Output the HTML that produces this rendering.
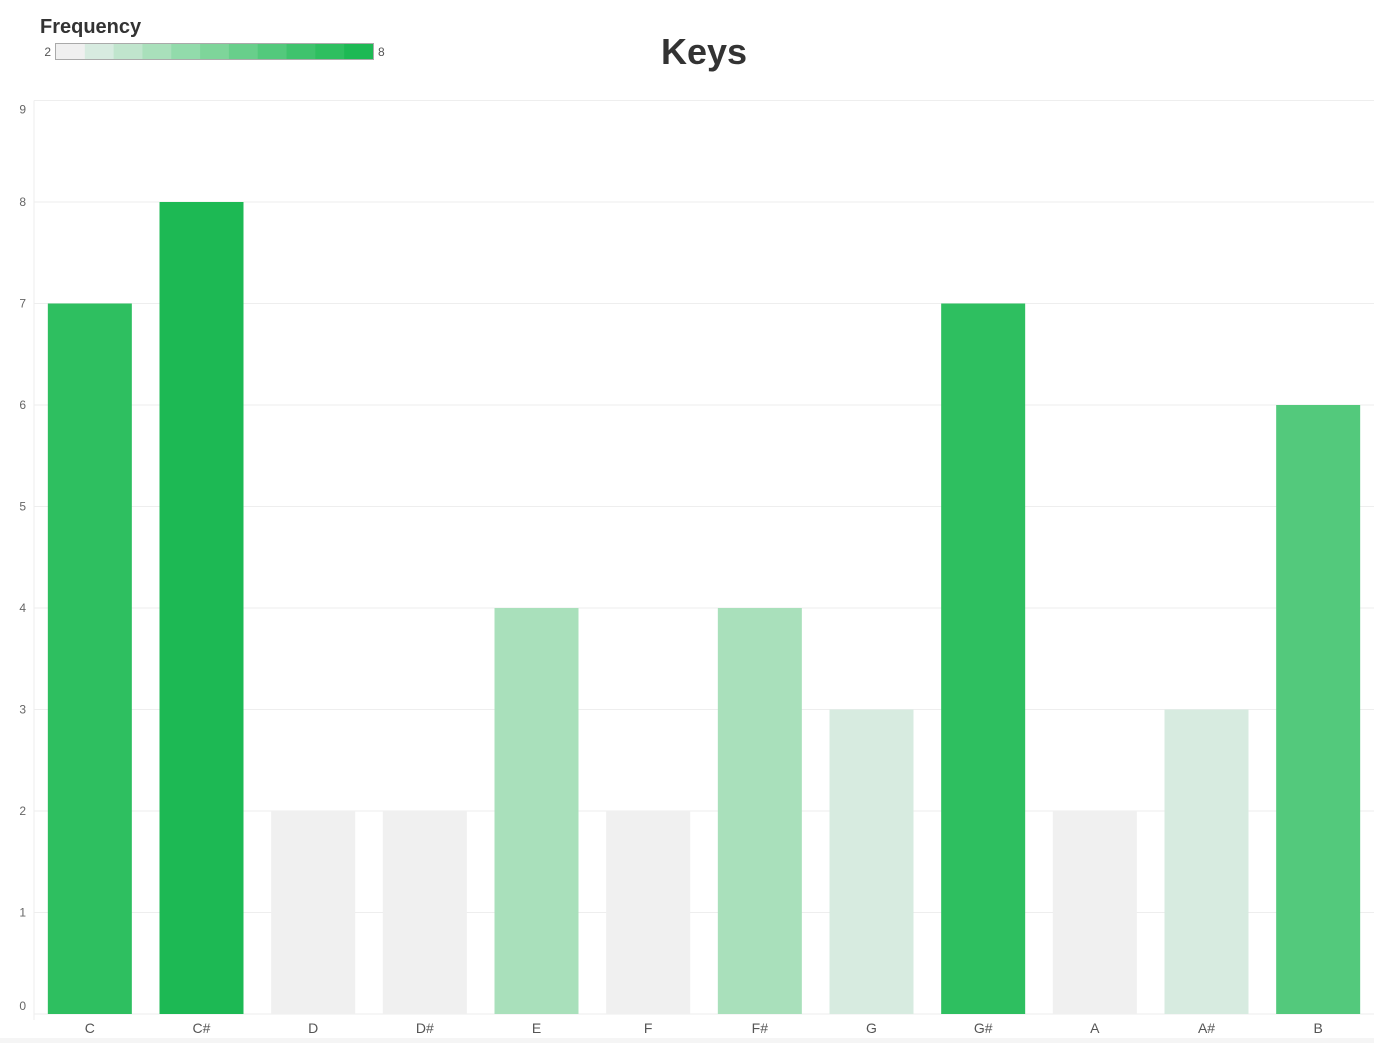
<!DOCTYPE html>
<html><head><meta charset="utf-8">
<style>
body{margin:0;background:#fff;font-family:"Liberation Sans",sans-serif;}
svg{display:block}
</style></head>
<body>
<svg id="chart" width="1374" height="1043">
<rect x="0" y="1038" width="1374" height="5" fill="#f5f5f5"/>
<text x="40" y="33" font-size="20" font-weight="bold" fill="#333">Frequency</text>
<text x="704" y="64" font-size="36" font-weight="bold" fill="#333" text-anchor="middle">Keys</text>
<g id="legend"></g>
<g id="grid"></g>
<g id="bars"></g>
<g id="axes"></g>
</svg>
<script>
const categories=["C","C#","D","D#","E","F","F#","G","G#","A","A#","B"];
const values=[7,8,2,2,4,2,4,3,7,2,3,6];
const yTicks=[0,1,2,3,4,5,6,7,8,9];
const legendColors=["#f0f0f0","#d7ebe0","#c0e5cd","#a9e0bb","#92dbab","#7ed59a","#68cf8b","#53c97c","#3fc36d","#2ebf60","#1db954"];
const NS="http://www.w3.org/2000/svg";
const x0=34,x1=1374,y0=1014,yPerUnit=101.5;
const band=(x1-x0)/categories.length,bw=84;
const y=v=>y0-v*yPerUnit;
const xc=i=>x0+band*(i+0.5);
function colorFor(v){const idx=Math.max(0,Math.min(legendColors.length-1,Math.round(2*v-5)));return legendColors[idx];}
function mk(tag,attrs,parent){const e=document.createElementNS(NS,tag);for(const k in attrs)e.setAttribute(k,attrs[k]);parent.appendChild(e);return e;}
const lg=document.getElementById('legend'),gg=document.getElementById('grid'),bg=document.getElementById('bars'),ag=document.getElementById('axes');
const lw=(373-56)/legendColors.length;
legendColors.forEach((c,i)=>{const r=mk('rect',{x:56+i*lw,y:43,width:lw+0.5,height:16,fill:c},lg);

});
let lb=mk('rect',{x:55.5,y:43.5,width:318,height:16,fill:'none',stroke:'#aaa'},lg);


let t1=mk('text',{x:51,y:56,'font-size':12,fill:'#555','text-anchor':'end'},lg);t1.textContent='2';


let t2=mk('text',{x:378,y:56,'font-size':12,fill:'#555'},lg);t2.textContent='8';


yTicks.forEach(v=>{const l=mk('line',{x1:x0,x2:x1,y1:y(v),y2:y(v),stroke:'#eee'},gg);


let ty=y(v)+4; if(v===9)ty=y(v)+13; if(v===0)ty=y(v)-4;
const t=mk('text',{x:26,y:ty,'font-size':12,fill:'#666','text-anchor':'end'},ag);t.textContent=v;

});
let ax=mk('line',{x1:x0,x2:x0,y1:y(9),y2:y0+6,stroke:'#eee'},ag);


categories.forEach((c,i)=>{const v=values[i];
const r=mk('rect',{x:xc(i)-bw/2,y:y(v),width:bw,height:y0-y(v),fill:colorFor(v)},bg);


const t=mk('text',{x:xc(i),y:1033,'font-size':14,fill:'#555','text-anchor':'middle'},ag);t.textContent=c;

});
</script>
</body></html>
